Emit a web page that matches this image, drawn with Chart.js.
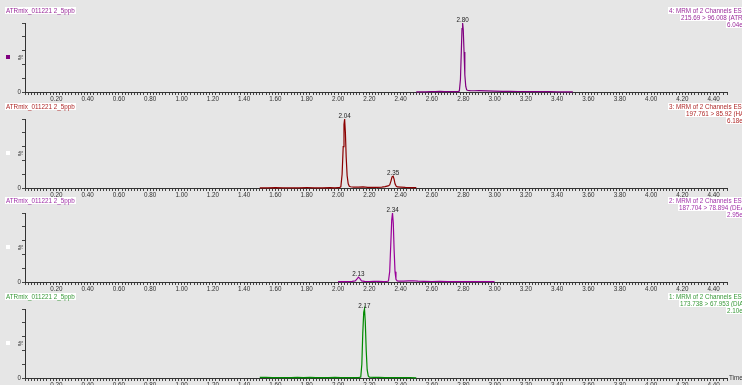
<!DOCTYPE html>
<html>
<head>
<meta charset="utf-8">
<script src="https://cdn.jsdelivr.net/npm/chart.js@4.4.1/dist/chart.umd.min.js"></script>
<style>
body { margin:0; background:#e6e6e6; width:742px; height:385px; overflow:hidden; position:relative; font-family:"Liberation Sans", Arial, sans-serif; }
.panel { position:absolute; left:0; width:742px; height:106px; }
.lbl { position:absolute; background:#fff; font-size:6.3px; line-height:7px; white-space:nowrap; padding:0 1px; }
.mark { position:absolute; left:6px; width:4px; height:4px; }
</style>
</head>
<body>
<script>
// sample + channel info, top panel first
const sampleName = "ATRmix_011221 2_5ppb"
const channelLine1 = ["4: MRM of 2 Channels ES+", "3: MRM of 2 Channels ES+", "2: MRM of 2 Channels ES+", "1: MRM of 2 Channels ES+"]
const channelLine2 = ["215.69 > 96.008 (ATRAZINE)", "197.761 > 85.92 (HA-ATRAZINE)", "187.704 > 78.894 (DEA)", "173.738 > 67.953 (DIA)"]
const channelLine3 = ["6.04e5", "6.18e4", "2.95e4", "2.10e4"]

// retention time (min) / intensity (%) per trace
const t4 = [2.50,2.53,2.56,2.59,2.62,2.65,2.68,2.71,2.74,2.765,2.775,2.782,2.788,2.792,2.796,2.800,2.805,2.810,2.816,2.822,2.830,2.845,2.87,2.90,2.95,3.00,3.05,3.10,3.15,3.20,3.25,3.30,3.35,3.40,3.45,3.50]
const y4 = [0.2,0.3,0.2,0.4,0.5,1.0,0.6,0.4,0.5,0.6,1.5,18,62,92,100,90,58,25,8,3,2.2,2.0,1.8,1.9,1.6,1.4,1.0,0.9,0.7,0.6,0.5,0.5,0.4,0.3,0.3,0.2]

const t3 = [1.50,1.55,1.60,1.65,1.70,1.75,1.80,1.85,1.90,1.95,1.98,2.00,2.01,2.018,2.026,2.033,2.038,2.042,2.047,2.052,2.058,2.065,2.072,2.08,2.10,2.13,2.16,2.19,2.22,2.25,2.28,2.30,2.32,2.33,2.338,2.345,2.352,2.358,2.364,2.372,2.38,2.40,2.43,2.46,2.50]
const y3 = [0.3,0.2,0.4,0.3,0.2,0.3,0.4,0.3,0.2,0.4,0.3,0.5,0.6,2,20,60,92,100,80,45,18,6,2.5,1.8,1.2,1.3,1.6,1.0,1.1,0.8,1.2,2.0,3.0,4.5,10,16,17,13,6,2.5,1.5,1.2,0.8,0.6,0.4]

const t2 = [2.00,2.03,2.06,2.09,2.11,2.12,2.13,2.14,2.15,2.17,2.20,2.23,2.26,2.29,2.31,2.322,2.330,2.337,2.343,2.348,2.353,2.358,2.364,2.370,2.378,2.39,2.42,2.45,2.48,2.51,2.55,2.60,2.65,2.70,2.75,2.80,2.85,2.90,2.95,3.00]
const y2 = [0.4,0.6,0.5,0.8,1.5,4,7,5,1.5,0.9,0.7,1.0,0.8,0.6,0.7,1.5,15,55,90,100,85,48,15,4,1.5,1.2,1.3,1.6,1.8,1.2,0.9,0.7,0.8,0.6,0.7,0.5,0.6,0.5,0.6,0.5]

const t1 = [1.50,1.54,1.58,1.62,1.66,1.70,1.74,1.78,1.82,1.86,1.90,1.94,1.98,2.02,2.06,2.10,2.13,2.145,2.152,2.158,2.164,2.169,2.174,2.180,2.186,2.193,2.20,2.23,2.26,2.30,2.34,2.38,2.42,2.46,2.50]
const y1 = [0.8,1.0,0.6,0.5,0.7,0.4,0.9,0.6,0.8,0.5,0.7,0.6,0.8,0.5,0.6,0.4,0.5,1.5,20,65,95,100,82,40,12,3,1.2,0.8,1.0,0.6,0.5,0.4,0.5,0.4,0.3]

// peak labels
const peakTimes = [[2.796], [2.042, 2.352], [2.13, 2.348], [2.169]]
const peakTexts = [["2.80"], ["2.04", "2.35"], ["2.13", "2.34"], ["2.17"]]

const traces = [[t4, y4], [t3, y3], [t2, y2], [t1, y1]]
const lineColors = ["#800080", "#8b0000", "#990099", "#008a00"]
const textColors = ["#9a2a9a", "#b02a2a", "#a030a8", "#3a9a3a"]
const markColors = ["#800080", "#ffffff", "#ffffff", "#ffffff"]
const panelTops = [0, 96, 190, 286]
const line2Left = [680, 685, 678, 679]

const peakPlugin = {
  id: "peaks",
  afterDatasetsDraw(chart, args, opts) {
    const ctx = chart.ctx, xs = chart.scales.x, ys = chart.scales.y
    const pts = chart.data.datasets[0].data
    ctx.save()
    ctx.font = '6.3px "Liberation Sans", Arial'
    ctx.fillStyle = "#222"
    ctx.textAlign = "center"
    ctx.textBaseline = "bottom"
    opts.times.forEach((t, i) => {
      let best = {x: t, y: 0}
      pts.forEach(p => { if (Math.abs(p.x - t) < 0.012 && p.y > best.y) best = p })
      ctx.fillText(opts.texts[i], xs.getPixelForValue(best.x), ys.getPixelForValue(best.y))
    })
    // rotated % on the y axis
    ctx.translate(21, (ys.top + ys.bottom) / 2)
    ctx.rotate(-Math.PI / 2)
    ctx.fillStyle = "#333"
    ctx.textBaseline = "middle"
    ctx.fillText("%", 0, 0)
    ctx.restore()
  }
}

function addLabel(text, left, top, color) {
  const d = document.createElement("div")
  d.className = "lbl"
  d.textContent = text
  d.style.left = left + "px"
  d.style.top = top + "px"
  d.style.color = color
  document.body.appendChild(d)
}

traces.forEach((tr, p) => {
  const top = panelTops[p]
  const wrap = document.createElement("div")
  wrap.className = "panel"
  wrap.style.top = top + "px"
  const cv = document.createElement("canvas")
  wrap.appendChild(cv)
  document.body.appendChild(wrap)

  const pts = tr[0].map((v, i) => ({x: v, y: tr[1][i]}))
  new Chart(cv, {
    type: "line",
    data: { datasets: [{ data: pts, borderColor: lineColors[p], borderWidth: 1.2, pointRadius: 0, tension: 0, clip: false }] },
    options: {
      responsive: true,
      maintainAspectRatio: false,
      animation: false,
      events: [],
      layout: { padding: { left: 0, right: 15, top: 23, bottom: 0 } },
      plugins: {
        legend: { display: false },
        tooltip: { enabled: false },
        peaks: { times: peakTimes[p], texts: peakTexts[p] }
      },
      scales: {
        x: {
          type: "linear", min: 0, max: 4.485,
          afterFit: s => { s.height = 14 },
          border: { color: "#333", width: 1 },
          grid: { drawOnChartArea: false, tickLength: 3, color: "#444" },
          ticks: {
            stepSize: 0.02, autoSkip: false, maxRotation: 0, padding: 0, color: "#333",
            font: { size: 6.3 },
            callback: v => {
              const k = Math.round(v * 50)
              return (k > 0 && k % 10 === 0) ? (k / 50).toFixed(2) : ""
            }
          }
        },
        y: {
          min: 0, max: 100,
          afterFit: s => { s.width = 25 },
          border: { color: "#333", width: 1 },
          grid: { drawOnChartArea: false, tickLength: 3, color: "#444" },
          ticks: { stepSize: 10, padding: 1, color: "#333", font: { size: 6.3 }, callback: v => v === 0 ? "0" : "" }
        }
      }
    },
    plugins: [peakPlugin]
  })

  addLabel(sampleName, 5, top + 7, textColors[p])
  addLabel(channelLine1[p], 668, top + 7, textColors[p])
  addLabel(channelLine2[p], line2Left[p], top + 14, textColors[p])
  addLabel(channelLine3[p], 726, top + 21, textColors[p])

  const m = document.createElement("div")
  m.className = "mark"
  m.style.top = (top + 55) + "px"
  m.style.background = markColors[p]
  document.body.appendChild(m)
})

// axis title on the bottom panel
const tl = document.createElement("div")
tl.textContent = "Time"
tl.style.cssText = "position:absolute;left:729px;top:374px;font-size:6.3px;color:#333;white-space:nowrap"
document.body.appendChild(tl)
</script>
</body>
</html>
